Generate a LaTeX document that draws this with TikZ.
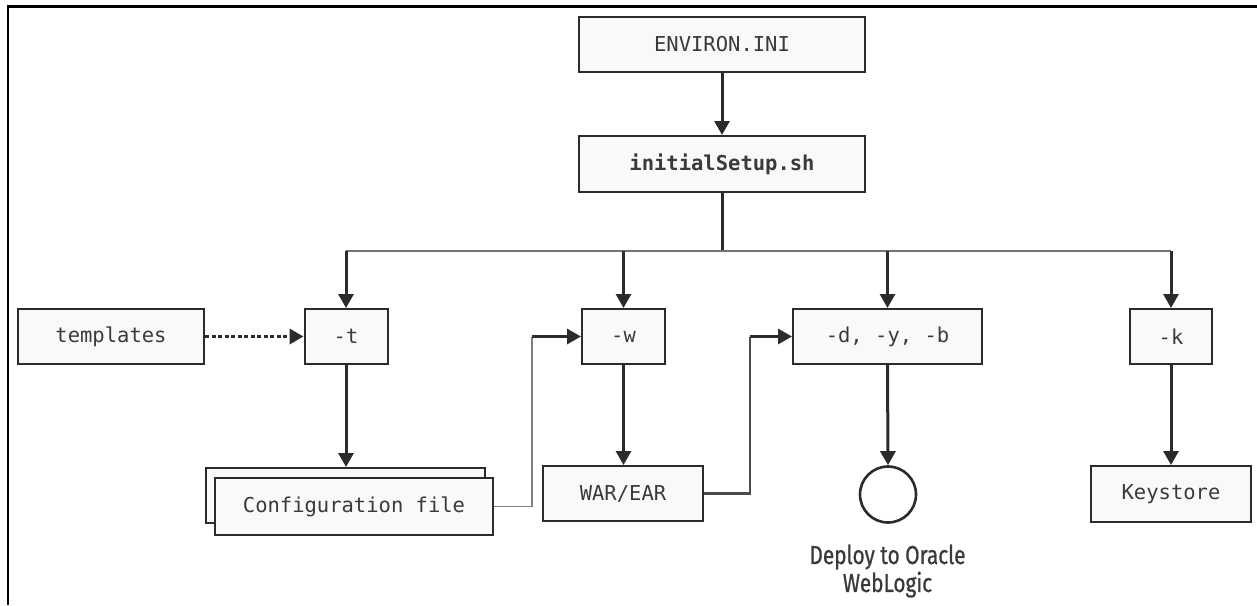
\documentclass[tikz,border=0pt]{standalone}
\usepackage{fontspec}
\setmonofont{DejaVu Sans Mono}
\newfontfamily\deployfont[FakeStretch=0.8,FakeBold=0.8]{Fira Sans}
\usetikzlibrary{arrows.meta}
\definecolor{boxfill}{HTML}{FAF9F7}
\definecolor{ink}{HTML}{2B2B2B}
\definecolor{txt}{HTML}{3A3A3A}
\tikzset{
  box/.style={draw=ink, line width=2pt, fill=boxfill, rectangle, inner sep=0pt,
    text=txt, font=\fontsize{20.5}{24}\selectfont\ttfamily},
  arr/.style={draw=ink, line width=3pt, -{Triangle[width=15pt,length=14pt]}},
  busline/.style={draw=black!55, line width=1.6pt},
  thinline/.style={draw=black!50, line width=1.6pt},
  medline/.style={draw=ink!85, line width=2.2pt},
  dotarr/.style={draw=ink, line width=3.5pt, dash pattern=on 4pt off 2.5pt,
    -{Triangle[width=15pt,length=14pt]}},
}
\begin{document}
\begin{tikzpicture}[x=1pt,y=-1pt]
\useasboundingbox (0,0) rectangle (1257,605);
\fill[white] (0,0) rectangle (1257,605);
% frame
\draw[black, line width=2.5pt] (8,605) -- (8,6.5) -- (1257,6.5);

% nodes
\node[box, minimum width=286pt, minimum height=55pt] (env) at (722,44.5) {ENVIRON.INI};
\node[box, minimum width=286pt, minimum height=56pt, font=\fontsize{20.5}{24}\selectfont\ttfamily\bfseries] (init) at (722,164) {initialSetup.sh};
\node[box, minimum width=186pt, minimum height=55pt] (tmpl) at (111,336.5) {templates};
\node[box, minimum width=83pt, minimum height=55pt] (t) at (346,336.5) {-t};
\node[box, minimum width=83pt, minimum height=55pt] (w) at (623.5,336.5) {-w};
\node[box, minimum width=189pt, minimum height=55pt] (d) at (887.5,336.5) {-d, -y, -b};
\node[box, minimum width=82pt, minimum height=55pt] (k) at (1171,336.5) {-k};
\node[box, minimum width=279pt, minimum height=55pt] (cfgback) at (345.5,495.5) {};
\node[box, minimum width=278pt, minimum height=57pt] (cfg) at (354,506.5) {Configuration file};
\node[box, minimum width=160pt, minimum height=55pt] (war) at (623,493.5) {WAR/EAR};
\node[draw=ink, line width=2.6pt, fill=white, circle, minimum size=56pt, inner sep=0pt] (wl) at (888,494.5) {};
\node[box, minimum width=160pt, minimum height=56pt] (key) at (1171,494) {Keystore};
\node[text=txt, align=center, font=\deployfont\fontsize{26}{28}\selectfont] (deploy) at (887.5,571) {Deploy to Oracle\\WebLogic};

% connectors
\draw[arr] (env.south) -- (init.north);
\coordinate (bus) at (722,251);
\draw[ink, line width=3pt] (init.south) -- (bus);
\draw[busline] (t.north |- bus) -- (k.north |- bus);
\draw[arr] (t.north |- bus) -- (t.north);
\draw[arr] (w.north |- bus) -- (w.north);
\draw[arr] (d.north |- bus) -- (d.north);
\draw[arr] (k.north |- bus) -- (k.north);

\draw[dotarr] (tmpl.east) -- (t.west);
\draw[arr] (t.south) -- (t.south |- cfgback.north);
\draw[arr] (w.south) -- (war.north -| w.south);
\draw[arr] (d.south) -- (wl.north);
\draw[arr] (k.south) -- (key.north);

\path (cfg.east) -- ++(38,0) coordinate (c1);
\draw[thinline] (cfg.east) -- (c1) -- (c1 |- w.west);
\draw[arr] (c1 |- w.west) -- (w.west);

\path (war.east) -- ++(46,0) coordinate (c2);
\draw[medline] (war.east) -- (c2) -- (c2 |- d.west);
\draw[arr] (c2 |- d.west) -- (d.west);
\end{tikzpicture}
\end{document}
